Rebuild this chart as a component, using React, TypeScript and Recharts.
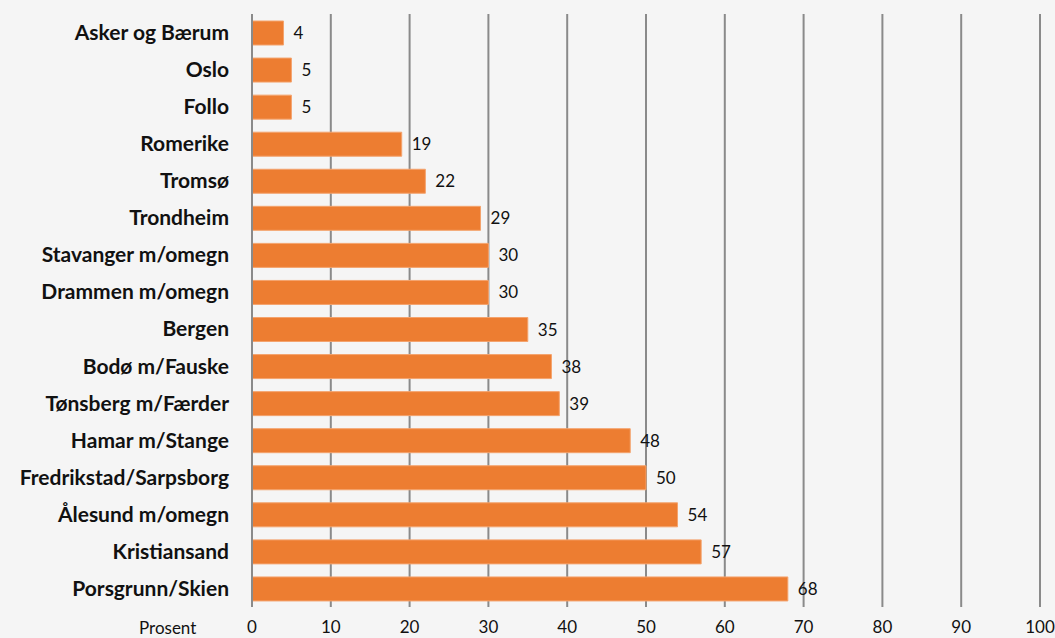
import React from 'react';
import { BarChart, Bar, XAxis, YAxis, CartesianGrid, LabelList } from 'recharts';

const regions = [
  'Asker og Bærum', 'Oslo', 'Follo', 'Romerike', 'Tromsø', 'Trondheim',
  'Stavanger m/omegn', 'Drammen m/omegn', 'Bergen', 'Bodø m/Fauske',
  'Tønsberg m/Færder', 'Hamar m/Stange', 'Fredrikstad/Sarpsborg',
  'Ålesund m/omegn', 'Kristiansand', 'Porsgrunn/Skien',
];
const values = [4, 5, 5, 19, 22, 29, 30, 30, 35, 38, 39, 48, 50, 54, 57, 68];
const xTicks = [0, 10, 20, 30, 40, 50, 60, 70, 80, 90, 100];
const axisTitle = 'Prosent';

const data = regions.map((name, i) => ({ name, value: values[i] }));

const FONT = 'Lato, "Noto Sans", sans-serif';

export default function App() {
  return (
    <div style={{ position: 'absolute', left: 0, top: 0, width: 1055, height: 638, background: '#f5f5f5', fontFamily: FONT }}>
      <BarChart
        width={1055}
        height={638}
        data={data}
        layout="vertical"
        margin={{ top: 14, right: 15, bottom: 0, left: 0 }}
        barSize={24}
      >
        <CartesianGrid horizontal={false} vertical={true} stroke="#8a8a8a" strokeWidth={2} />
        <XAxis
          type="number"
          domain={[0, 100]}
          ticks={xTicks}
          interval={0}
          axisLine={false}
          tickLine={false}
          tickSize={0}
          tickMargin={14}
          height={31}
          tick={{ fill: '#111', fontSize: 17, fontFamily: FONT }}
        />
        <YAxis
          type="category"
          dataKey="name"
          width={252}
          axisLine={{ stroke: '#8a8a8a', strokeWidth: 2 }}
          tickLine={false}
          tickSize={0}
          tickMargin={23}
          interval={0}
          tick={{ fill: '#111', fontSize: 21, fontWeight: 700, fontFamily: FONT }}
        />
        <Bar dataKey="value" fill="#ED7D31" stroke="#f4a36d" strokeWidth={1} isAnimationActive={false}>
          <LabelList dataKey="value" position="right" offset={10} fill="#111" fontSize={17} fontFamily={FONT} />
        </Bar>
      </BarChart>
      <div style={{ position: 'absolute', left: 139, top: 617, fontSize: 17, color: '#111', fontFamily: FONT }}>{axisTitle}</div>
    </div>
  );
}
